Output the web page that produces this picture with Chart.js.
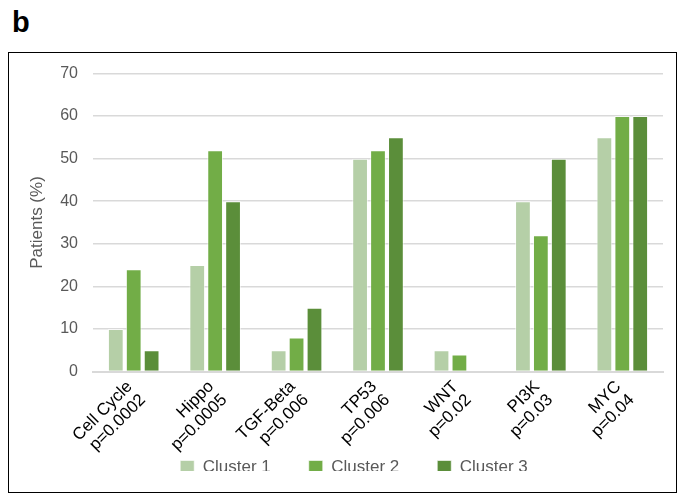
<!DOCTYPE html>
<html>
<head>
<meta charset="utf-8">
<script src="https://cdn.jsdelivr.net/npm/chart.js@4"></script>
<style>
  body { margin: 0; background: #fff; font-family: "Liberation Sans", Arial, sans-serif; }
  #panel { position: absolute; left: 12px; top: 6px; font-size: 29px; font-weight: bold; color: #000; }
  #frame { position: absolute; left: 8px; top: 52px; width: 667px; height: 439px; border: 1.5px solid #000; }
  #wrap { position: absolute; left: 0; top: 0; width: 667px; height: 439px; }
</style>
</head>
<body>
<div id="panel">b</div>
<div id="frame"><div id="wrap"><canvas id="c"></canvas></div></div>
<script>
// pathway categories with p-values (two-line labels)
const pathways = ['Cell Cycle', 'Hippo', 'TGF-Beta', 'TP53', 'WNT', 'PI3K', 'MYC'];
const pValues = ['p=0.0002', 'p=0.0005', 'p=0.006', 'p=0.006', 'p=0.02', 'p=0.03', 'p=0.04'];

const cluster1 = [10, 25, 5, 50, 5, 40, 55];
const cluster2 = [24, 52, 8, 52, 4, 32, 60];
const cluster3 = [5, 40, 15, 55, 0, 50, 60];

const yTicks = [0, 10, 20, 30, 40, 50, 60, 70];

const labels = pathways.map((p, i) => [p, pValues[i]]);

const mkSet = (label, data, color) => ({
  label, data,
  backgroundColor: color,
  borderColor: 'rgba(255,255,255,0.6)',
  borderWidth: 1,
  categoryPercentage: 0.66,
  barPercentage: 0.88
});

new Chart(document.getElementById('c'), {
  type: 'bar',
  data: {
    labels,
    datasets: [
      mkSet('Cluster 1', cluster1, '#b5cfa7'),
      mkSet('Cluster 2', cluster2, '#72ad47'),
      mkSet('Cluster 3', cluster3, '#5b8e3a')
    ]
  },
  options: {
    responsive: true,
    maintainAspectRatio: false,
    animation: false,
    layout: { padding: { left: 36, right: 13, top: 20.5, bottom: 21 } },
    plugins: {
      tooltip: { enabled: false },
      legend: {
        position: 'bottom',
        maxHeight: 50,
        labels: {
          boxWidth: 14, boxHeight: 14, padding: 38,
          color: '#595959',
          font: { family: 'Liberation Sans', size: 17 }
        }
      }
    },
    scales: {
      x: {
        grid: { display: false },
        border: { display: true, color: '#d9d9d9', width: 2 },
        afterFit: s => {
          s.height = 49.5;
          // rotated labels run past the squeezed axis box, so don't clip them
          s._computeLabelArea = () => null;
        },
        ticks: {
          color: '#000',
          maxRotation: 45, minRotation: 45,
          font: { family: 'Liberation Sans', size: 17, lineHeight: 1.1 },
          padding: -2,
          labelOffset: -4
        }
      },
      y: {
        min: 0, max: 70,
        afterBuildTicks: s => { s.ticks = yTicks.map(v => ({ value: v })); },
        afterFit: s => { s.width = 48; s.paddingTop = 0; s.paddingBottom = 0; },
        grid: { color: '#d9d9d9', lineWidth: 1.5, drawTicks: false },
        border: { display: false },
        ticks: {
          color: '#595959', padding: 15,
          font: { family: 'Liberation Sans', size: 16 }
        },
        title: {
          display: true, text: 'Patients (%)', color: '#595959',
          padding: { top: -18, bottom: 0 },
          font: { family: 'Liberation Sans', size: 17 }
        }
      }
    }
  }
});
</script>
</body>
</html>
